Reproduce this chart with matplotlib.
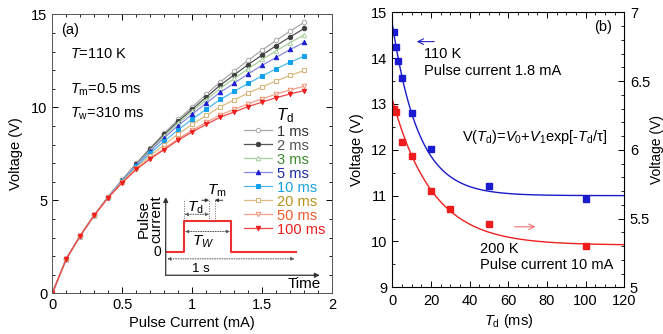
import numpy as np
import matplotlib
matplotlib.use('Agg')
import matplotlib.pyplot as plt
from matplotlib.ticker import MultipleLocator

plt.rcParams['font.family'] = ['Liberation Sans', 'DejaVu Sans']
plt.rcParams['mathtext.fontset'] = 'custom'
plt.rcParams['mathtext.rm'] = 'Liberation Sans'
plt.rcParams['mathtext.it'] = 'Liberation Sans:italic'
plt.rcParams['font.size'] = 10

# ---- panel (a): V-I curves for different delay times ----
current = [0, 0.1, 0.2, 0.3, 0.4, 0.5, 0.6, 0.7, 0.8, 0.9, 1.0,
           1.1, 1.2, 1.3, 1.4, 1.5, 1.6, 1.7, 1.8]
v_1ms = [0, 1.85, 3.1, 4.2, 5.2, 6.1, 6.98, 7.82, 8.62, 9.35, 10.02,
         10.7, 11.36, 11.95, 12.53, 13.08, 13.6, 14.1, 14.57]
v_2ms = [0, 1.85, 3.1, 4.2, 5.2, 6.09, 6.95, 7.77, 8.54, 9.25, 9.9,
         10.55, 11.19, 11.75, 12.3, 12.82, 13.32, 13.79, 14.24]
v_3ms = [0, 1.85, 3.1, 4.2, 5.19, 6.07, 6.92, 7.71, 8.46, 9.15, 9.78,
         10.41, 11.02, 11.55, 12.08, 12.57, 13.04, 13.48, 13.9]
v_5ms = [0, 1.85, 3.1, 4.2, 5.19, 6.06, 6.89, 7.65, 8.36, 9.02, 9.63,
         10.23, 10.81, 11.3, 11.8, 12.26, 12.69, 13.11, 13.49]
v_10ms = [0, 1.85, 3.1, 4.2, 5.17, 6.02, 6.82, 7.53, 8.18, 8.8, 9.36,
          9.9, 10.42, 10.86, 11.29, 11.69, 12.07, 12.43, 12.75]
v_20ms = [0, 1.85, 3.1, 4.2, 5.16, 5.99, 6.76, 7.4, 7.99, 8.57, 9.08,
          9.56, 10.03, 10.4, 10.77, 11.1, 11.42, 11.72, 11.98]
v_50ms = [0, 1.85, 3.1, 4.2, 5.15, 5.96, 6.68, 7.27, 7.79, 8.31, 8.77,
          9.19, 9.59, 9.89, 10.19, 10.46, 10.71, 10.94, 11.13]
v_100ms = [0, 1.85, 3.1, 4.2, 5.15, 5.95, 6.66, 7.23, 7.73, 8.24, 8.68,
           9.08, 9.47, 9.75, 10.04, 10.28, 10.52, 10.72, 10.9]

td_labels = ['1 ms', '2 ms', '3 ms', '5 ms', '10 ms', '20 ms', '50 ms', '100 ms']
series = [v_1ms, v_2ms, v_3ms, v_5ms, v_10ms, v_20ms, v_50ms, v_100ms]
line_colors = ['#a8a8a8', '#555555', '#a8cfa0', '#8888e0', '#50b8ec', '#dcbc80', '#f2a088', '#f04848']
marker_colors = ['#a8a8a8', '#404040', '#a8cfa0', '#1a1ad0', '#10a0f0', '#d8b070', '#f09070', '#ee1c1c']
marker_fill = ['white', None, 'white', None, None, 'white', 'white', None]
markers = ['o', 'o', '^', '^', 's', 's', 'v', 'v']
text_colors = ['#333333', '#555555', '#3a8a2a', '#1c2aa8', '#1aa2e0', '#b8901a', '#ee5a2a', '#ee1c1c']

# schematic pulse (inset)
pulse_t = [0.01, 0.118, 0.118, 0.427, 0.427, 0.845]
pulse_i = [0.30, 0.30, 0.70, 0.70, 0.30, 0.30]

# ---- panel (b): voltage vs delay time ----
td_110k = [1, 2, 3, 5, 10, 20, 50, 100]
v_110k = [14.58, 14.25, 13.93, 13.56, 12.8, 12.02, 11.2, 10.92]
td_200k = [1, 2, 5, 10, 20, 30, 50, 100]
v_200k = [6.30, 6.275, 6.06, 5.957, 5.703, 5.57, 5.457, 5.30]
fit_110k = (11.0, 3.75, 13.6)     # V0, V1, tau
fit_200k = (5.307, 1.06, 20.6)

fig = plt.figure(figsize=(6.63, 3.34), dpi=100)
ax1 = fig.add_axes([52.3 / 663, 40.7 / 334, 280 / 663, 279 / 334])
ax2 = fig.add_axes([392.3 / 663, 46.7 / 334, 232 / 663, 275 / 334])
ax3 = ax2.twinx()


def style_ticks(ax, right=True):
    ax.tick_params(which='both', direction='in', top=True, right=right, labelsize=10.5)
    ax.tick_params(which='major', length=4, width=0.7)
    ax.tick_params(which='minor', length=2.5, width=0.6)
    for s in ax.spines.values():
        s.set_linewidth(0.7)
        s.set_color('#555555')


handles = []
for v, lab, lc, mc, mf, mk in zip(series, td_labels, line_colors, marker_colors, marker_fill, markers):
    h, = ax1.plot(current, v, color=lc, lw=0.9, marker=mk, ms=3.2,
                  mfc=mf if mf else mc, mec=mc, mew=0.7, label=lab)
    handles.append(h)

ax1.set_xlim(0, 2)
ax1.set_ylim(0, 15)
ax1.xaxis.set_major_locator(MultipleLocator(0.5))
ax1.xaxis.set_minor_locator(MultipleLocator(0.1))
ax1.yaxis.set_major_locator(MultipleLocator(5))
ax1.yaxis.set_minor_locator(MultipleLocator(1))
ax1.xaxis.set_major_formatter(plt.FuncFormatter(lambda x, p: f'{x:g}'))
style_ticks(ax1)
ax1.set_xlabel('Pulse Current (mA)', fontsize=10.5, labelpad=3)
ax1.set_ylabel('Voltage (V)', fontsize=10.5, labelpad=6)

leg = ax1.legend(handles=handles, loc='upper left', bbox_to_anchor=(0.685, 0.672),
                 frameon=False, fontsize=10.5, handlelength=1.9, handletextpad=0.35,
                 labelspacing=0.0, borderpad=0, borderaxespad=0,
                 title=r'$T_\mathrm{d}$', title_fontsize=12)
for t, c in zip(leg.get_texts(), text_colors):
    t.set_color(c)

ax1.text(0.03, 0.944, '(a)', transform=ax1.transAxes, fontsize=10.5, va='center')
ax1.text(0.064, 0.858, r'$T$=110 K', transform=ax1.transAxes, fontsize=10.5, va='center')
ax1.text(0.064, 0.729, r'$T_\mathrm{m}$=0.5 ms', transform=ax1.transAxes, fontsize=10.5, va='center')
ax1.text(0.064, 0.643, r'$T_\mathrm{w}$=310 ms', transform=ax1.transAxes, fontsize=10.5, va='center')

# inset pulse diagram
ins = ax1.inset_axes([0.81, 0.97, 1.1, 4.2], transform=ax1.transData)
ins.set_xlim(0, 1)
ins.set_ylim(0, 1)
ins.axis('off')
ins.plot(pulse_t, pulse_i, color='#ee3030', lw=1.5)
ax_arrow = dict(arrowstyle='-|>', lw=0.9, color='#333333', mutation_scale=7, shrinkA=0, shrinkB=0)
ins.annotate('', xy=(1.0, 0), xytext=(0, 0), arrowprops=ax_arrow, annotation_clip=False)
ins.annotate('', xy=(0, 1.0), xytext=(0, 0), arrowprops=ax_arrow, annotation_clip=False)
dot_arrow = dict(arrowstyle='<|-|>', lw=0.7, ls=(0, (1, 1.5)), color='#555555',
                 mutation_scale=5, shrinkA=0, shrinkB=0)
ins.annotate('', xy=(0.836, 0.21), xytext=(0.01, 0.21), arrowprops=dot_arrow)
ins.annotate('', xy=(0.418, 0.56), xytext=(0.125, 0.56), arrowprops=dot_arrow)
ins.annotate('', xy=(0.282, 0.78), xytext=(0.122, 0.78), arrowprops=dot_arrow)
for xv in [0.118, 0.282, 0.318]:
    ins.plot([xv, xv], [0.70, 0.98], color='#666666', lw=0.7, ls=(0, (1, 1.5)))
one_arrow = dict(arrowstyle='-|>', lw=0.7, color='#333333', mutation_scale=5, shrinkA=0, shrinkB=0)
ins.annotate('', xy=(0.282, 0.96), xytext=(0.235, 0.96), arrowprops=one_arrow)
ins.annotate('', xy=(0.318, 0.96), xytext=(0.37, 0.96), arrowprops=one_arrow)
ins.text(0.33, 1.08, r'$T_\mathrm{m}$', fontsize=11, ha='center', va='center')
ins.text(0.19, 0.865, r'$T_\mathrm{d}$', fontsize=11, ha='center', va='center')
ins.text(0.245, 0.43, r'$T_W$', fontsize=11, ha='center', va='center')
ins.text(0.227, 0.086, '1 s', fontsize=9.5, ha='center', va='center')
ins.text(-0.03, 0.30, '0', fontsize=10, ha='right', va='center')
ins.text(0.9, -0.11, 'Time', fontsize=11, ha='center', va='center')
ins.text(-0.1, 0.72, 'Pulse\ncurrent', fontsize=11, ha='center', va='center',
         rotation=90, linespacing=0.9)

# panel (b)
td_fit = np.linspace(0, 120, 400)
ax2.plot(td_fit, fit_110k[0] + fit_110k[1] * np.exp(-td_fit / fit_110k[2]), color='#1a1ac8', lw=1.0)
ax2.plot(td_110k, v_110k, ls='none', marker='s', ms=5, color='#1a1ad0')
ax3.plot(td_fit, fit_200k[0] + fit_200k[1] * np.exp(-td_fit / fit_200k[2]), color='#ee2020', lw=1.0)
ax3.plot(td_200k, v_200k, ls='none', marker='s', ms=5, color='#ee1c1c')

ax2.set_xlim(0, 120)
ax2.set_ylim(9, 15)
ax3.set_ylim(5, 7)
ax2.xaxis.set_major_locator(MultipleLocator(20))
ax2.xaxis.set_minor_locator(MultipleLocator(5))
ax2.yaxis.set_major_locator(MultipleLocator(1))
ax2.yaxis.set_minor_locator(MultipleLocator(0.5))
ax3.yaxis.set_major_locator(MultipleLocator(0.5))
ax3.yaxis.set_minor_locator(MultipleLocator(0.1))
ax3.yaxis.set_major_formatter(plt.FuncFormatter(lambda x, p: f'{x:g}'))
style_ticks(ax2, right=False)
ax2.tick_params(axis='x', which='major', pad=5)
ax3.tick_params(which='both', direction='in', labelsize=10.5)
ax3.tick_params(which='major', length=4, width=0.7, pad=4)
ax3.tick_params(which='minor', length=2.5, width=0.6)
ax2.set_xlabel(r'$T_\mathrm{d}$ (ms)', fontsize=10.5, labelpad=3)
ax2.set_ylabel('Voltage (V)', fontsize=10.5, labelpad=5)
ax3.set_ylabel('Voltage (V)', fontsize=10, labelpad=0)

ax2.text(0.908, 0.947, '(b)', transform=ax2.transAxes, fontsize=10.5, ha='center', va='center')
ax2.text(0.136, 0.848, '110 K', transform=ax2.transAxes, fontsize=10.5, va='center')
ax2.text(0.136, 0.786, 'Pulse current 1.8 mA', transform=ax2.transAxes, fontsize=10.5, va='center')
ax2.text(0.299, 0.548, r'V($T_\mathrm{d}$)=$V_0$+$V_1$exp[-$T_\mathrm{d}$/τ]',
         transform=ax2.transAxes, fontsize=10.5, va='center')
ax2.text(0.378, 0.139, '200 K', transform=ax2.transAxes, fontsize=10.5, va='center')
ax2.text(0.378, 0.081, 'Pulse current 10 mA', transform=ax2.transAxes, fontsize=10.5, va='center')
ax2.annotate('', xy=(11.2, 14.36), xytext=(23.1, 14.36),
             arrowprops=dict(arrowstyle='->', color='#2020c8', lw=0.8))
ax2.annotate('', xy=(75.5, 10.32), xytext=(61.8, 10.32),
             arrowprops=dict(arrowstyle='->', color='#f07070', lw=0.8))

fig.savefig('out.png', dpi=100)
